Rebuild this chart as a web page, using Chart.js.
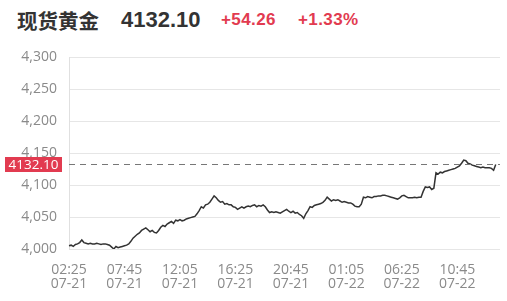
<!DOCTYPE html>
<html>
<head>
<meta charset="utf-8">
<script src="https://cdn.jsdelivr.net/npm/chart.js@4"></script>
<style>
  html, body { margin: 0; padding: 0; background: #fff; }
  #wrap { position: relative; width: 507px; height: 301px; }
  .hd { position: absolute; top: 5px; height: 30px; line-height: 30px; white-space: nowrap; font-weight: bold; }
  #name { left: 17px; font-family: "Noto Sans CJK SC", sans-serif; font-size: 20.5px; color: #333; }
  #price { left: 121px; font-family: "Liberation Sans", sans-serif; font-size: 22px; color: #333; }
  #chg { left: 221px; font-family: "Liberation Sans", sans-serif; font-size: 17px; color: #e23b50; letter-spacing: 0.4px; }
  #pct { left: 298px; font-family: "Liberation Sans", sans-serif; font-size: 17px; color: #e23b50; letter-spacing: 0.4px; }
  canvas { position: absolute; left: 0; top: 0; }
</style>
</head>
<body>
<div id="wrap">
  <div class="hd" id="name">现货黄金</div>
  <div class="hd" id="price">4132.10</div>
  <div class="hd" id="chg">+54.26</div>
  <div class="hd" id="pct">+1.33%</div>
  <canvas id="c" width="507" height="301"></canvas>
</div>
<script>
// 10-minute prices, 02:25 07-21 onward (daily break skipped)
const prices = [
  4005, 4006, 4004, 4007, 4008, 4010, 4014, 4010, 4009, 4008,
  4009, 4008, 4008, 4009, 4008, 4007, 4008, 4008, 4007, 4006,
  4003, 4000, 4004, 4002, 4003, 4004, 4005, 4006, 4008, 4012,
  4017, 4020, 4023, 4025, 4029, 4031, 4033, 4030, 4027, 4029,
  4026, 4025, 4029, 4034, 4037, 4035, 4039, 4041, 4043, 4040,
  4045, 4044, 4046, 4044, 4045, 4047, 4048, 4049, 4050, 4051,
  4055, 4060, 4066, 4064, 4069, 4070, 4073, 4078, 4083, 4080,
  4076, 4073, 4074, 4070, 4071, 4069, 4069, 4066, 4065, 4062,
  4064, 4066, 4064, 4066, 4067, 4066, 4068, 4069, 4066, 4068,
  4067, 4069, 4066, 4061, 4057, 4058, 4057, 4058, 4057, 4056,
  4058, 4060, 4062, 4059, 4057, 4059, 4056, 4057, 4054, 4052,
  4048, 4055, 4060, 4066, 4065, 4068, 4069, 4070, 4071, 4073,
  4076, 4081, 4078, 4075, 4077, 4076, 4077, 4075, 4073, 4074,
  4073, 4072, 4072, 4070, 4067, 4066, 4066, 4070, 4081, 4080,
  4082, 4081, 4080, 4082, 4082, 4083, 4083, 4084, 4084, 4083,
  4082, 4081, 4080, 4079, 4078, 4080, 4083, 4084, 4082, 4080,
  4080, 4080, 4081, 4080, 4081, 4081, 4090, 4097, 4096, 4097,
  4093, 4095, 4119, 4117, 4120, 4119, 4121, 4122, 4123, 4124,
  4125, 4126, 4128, 4130, 4134, 4139, 4138, 4134, 4133, 4131,
  4130, 4129, 4128, 4127, 4128, 4127, 4127, 4127, 4126, 4123,
  4132
];

const tickTimes = ['02:25', '07:45', '12:05', '16:25', '20:45', '01:05', '06:25', '10:45'];
const tickDates = ['07-21', '07-21', '07-21', '07-21', '07-21', '07-22', '07-22', '07-22'];
const tickEvery = 26;      // one tick label every 26 bars (4h20m)
const totalSlots = 203;    // session slots on the axis
const lastPrice = 4132.10;

const yTicks = { min: 4000, max: 4300, step: 50 };

// build category labels: only every 26th slot gets a two-line label
const xLabels = [];
for (let i = 0; i < totalSlots; i++) {
    const k = i / tickEvery;
    xLabels.push(Number.isInteger(k) && k < tickTimes.length ? [tickTimes[k], tickDates[k]] : '');
}

const red = '#e23b50';
const axisFont = { family: '"Open Sans", "Noto Sans", sans-serif', size: 14 };

// dashed last-price line and red tag on the y axis
const lastPricePlugin = {
    id: 'lastPrice',
    afterDatasetsDraw(chart) {
        const ctx = chart.ctx;
        const area = chart.chartArea;
        const y = Math.round(chart.scales.y.getPixelForValue(lastPrice)) + 0.5;
        ctx.save();
        ctx.strokeStyle = '#777';
        ctx.lineWidth = 1;
        ctx.setLineDash([6, 5]);
        ctx.beginPath();
        ctx.moveTo(area.left, y);
        ctx.lineTo(area.right, y);
        ctx.stroke();
        ctx.setLineDash([]);
        ctx.fillStyle = red;
        ctx.fillRect(5, y - 7.5, 57, 15);
        ctx.fillStyle = '#fff';
        ctx.font = '13.5px "Open Sans", sans-serif';
        ctx.textAlign = 'center';
        ctx.textBaseline = 'middle';
        ctx.fillText(lastPrice.toFixed(2), 33.5, y + 0.5);
        ctx.restore();
    }
};

new Chart(document.getElementById('c'), {
    type: 'line',
    data: {
        labels: xLabels,
        datasets: [{
            data: prices,
            borderColor: '#333',
            borderWidth: 1.5,
            pointRadius: 0,
            tension: 0,
            fill: false
        }]
    },
    options: {
        responsive: false,
        animation: false,
        layout: { padding: { top: 57, right: 7, left: 0, bottom: 0 } },
        plugins: { legend: { display: false }, tooltip: { enabled: false } },
        scales: {
            x: {
                grid: { display: false },
                border: { display: false },
                afterFit: (scale) => { scale.height = 52; },
                ticks: {
                    autoSkip: false,
                    maxRotation: 0,
                    minRotation: 0,
                    padding: 6,
                    color: '#8a8a8a',
                    font: { ...axisFont, lineHeight: 1.0 },
                    callback: (val, i) => xLabels[i] || null
                }
            },
            y: {
                min: yTicks.min,
                max: yTicks.max,
                afterFit: (scale) => { scale.width = 69; },
                grid: { color: '#e6e6e6', drawTicks: false },
                border: { display: true, color: '#e0e0e0' },
                ticks: {
                    stepSize: yTicks.step,
                    padding: 12,
                    color: '#8a8a8a',
                    font: axisFont
                }
            }
        }
    },
    plugins: [lastPricePlugin]
});
</script>
</body>
</html>
